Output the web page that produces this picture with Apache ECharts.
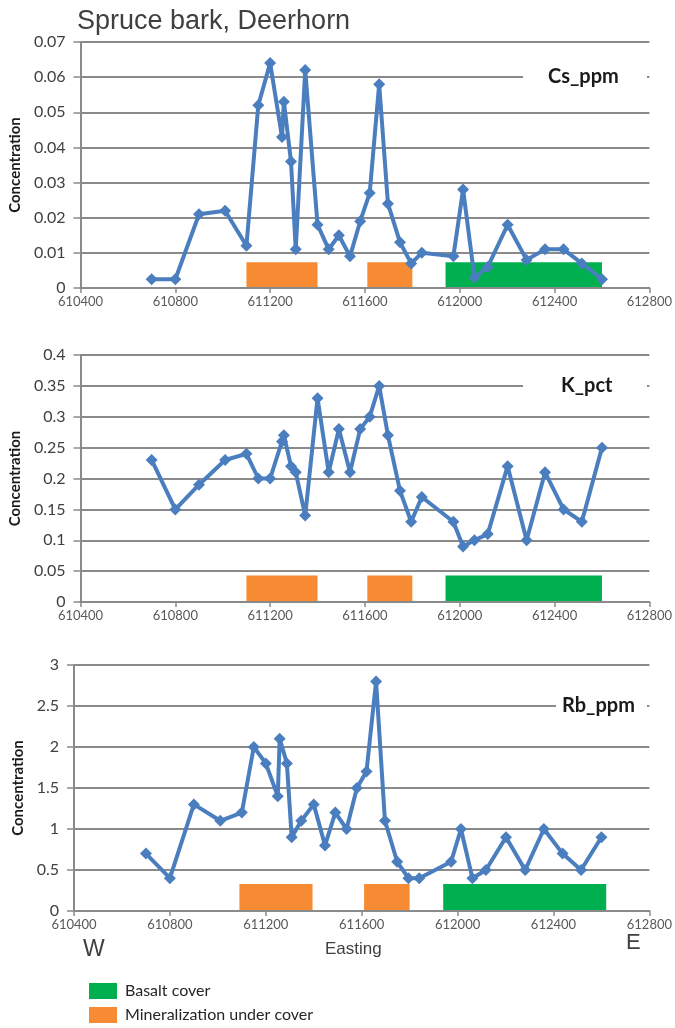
<!DOCTYPE html>
<html>
<head>
<meta charset="utf-8">
<script src="https://cdn.jsdelivr.net/npm/echarts@6/dist/echarts.min.js"></script>
<style>
  html, body { margin: 0; padding: 0; background: #ffffff; }
  #chart { width: 675px; height: 1028px; }
</style>
</head>
<body>
<div id="chart"></div>
<script>
// ---- Data ----
const title = 'Spruce bark, Deerhorn';
const seriesNames = ['Cs_ppm', 'K_pct', 'Rb_ppm'];
const eastings = [610700, 610800, 610900, 611010, 611100, 611150, 611200, 611250, 611258, 611288,
  611308, 611348, 611400, 611447, 611490, 611537, 611580, 611620, 611660, 611697,
  611748, 611795, 611840, 611973, 612014, 612062, 612118, 612202, 612282, 612360,
  612438, 612515, 612600];
const csPpm = [0.0025, 0.0025, 0.021, 0.022, 0.012, 0.052, 0.064, 0.043, 0.053, 0.036,
  0.011, 0.062, 0.018, 0.011, 0.015, 0.009, 0.019, 0.027, 0.058, 0.024,
  0.013, 0.007, 0.010, 0.009, 0.028, 0.003, 0.006, 0.018, 0.008, 0.011,
  0.011, 0.007, 0.0025];
const kPct = [0.23, 0.15, 0.19, 0.23, 0.24, 0.20, 0.20, 0.26, 0.27, 0.22,
  0.21, 0.14, 0.33, 0.21, 0.28, 0.21, 0.28, 0.30, 0.35, 0.27,
  0.18, 0.13, 0.17, 0.13, 0.09, 0.10, 0.11, 0.22, 0.10, 0.21,
  0.15, 0.13, 0.25];
const rbPpm = [0.7, 0.4, 1.3, 1.1, 1.2, 2.0, 1.8, 1.4, 2.1, 1.8,
  0.9, 1.1, 1.3, 0.8, 1.2, 1.0, 1.5, 1.7, 2.8, 1.1,
  0.6, 0.4, 0.4, 0.6, 1.0, 0.4, 0.5, 0.9, 0.5, 1.0,
  0.7, 0.5, 0.9];
const xMin = 610400, xMax = 612800, xStep = 400;
const yMax = [0.07, 0.4, 3];
const yStep = [0.01, 0.05, 0.5];
// zones: [start easting, end easting, bar height, kind]
const zonesCs = [[611100, 611400, 0.0073, 'min'], [611610, 611800, 0.0073, 'min'], [611940, 612600, 0.0073, 'bas']];
const zonesK  = [[611100, 611400, 0.043, 'min'], [611610, 611800, 0.043, 'min'], [611940, 612600, 0.043, 'bas']];
const zonesRb = [[611090, 611395, 0.33, 'min'], [611610, 611800, 0.33, 'min'], [611940, 612620, 0.33, 'bas']];
const legendLabels = ['Basalt cover', 'Mineralization under cover'];

// ---- Styles ----
const BLUE = '#4a7ebf', ORANGE = '#f68b33', GREEN = '#00b050', GRID = '#8a8a8a';
const FONT = 'Lato';

const grids = [
  { left: 75, top: 42, width: 578, height: 246 },
  { left: 75, top: 355, width: 578, height: 247 },
  { left: 74, top: 665, width: 577, height: 246 }
];
const nameGaps = [50, 50, 41];
const values = [csPpm, kPct, rbPpm];
const zones = [zonesCs, zonesK, zonesRb];

const option = {
  animation: false,
  backgroundColor: '#ffffff',
  grid: grids,
  xAxis: grids.map((g, i) => ({
    type: 'value', gridIndex: i, min: xMin, max: xMax, interval: xStep,
    axisLine: { show: true, lineStyle: { color: GRID, width: 2 } },
    axisTick: { show: true, length: 5, lineStyle: { color: GRID, width: 1.5 } },
    splitLine: { show: false },
    axisLabel: { color: '#595959', fontFamily: FONT, fontSize: 13, margin: 7,
      formatter: v => String(v) }
  })),
  yAxis: grids.map((g, i) => ({
    type: 'value', gridIndex: i, min: 0, max: yMax[i], interval: yStep[i],
    name: 'Concentration', nameLocation: 'middle', nameGap: nameGaps[i], nameRotate: 90,
    nameTextStyle: { color: '#1a1a1a', fontFamily: FONT, fontSize: 15, fontWeight: 'bold' },
    axisLine: { show: true, lineStyle: { color: GRID, width: 2 } },
    axisTick: { show: true, length: 7, lineStyle: { color: GRID, width: 1.5 } },
    splitLine: { show: true, lineStyle: { color: GRID, width: 2 } },
    axisLabel: { color: '#404040', fontFamily: FONT, fontSize: 16, margin: 15 }
  })),
  series: []
};

zones.forEach((z, i) => {
  option.series.push({
    type: 'custom', xAxisIndex: i, yAxisIndex: i, z: 2,
    data: z.map(r => [r[0], r[1], r[2], r[3] === 'bas' ? 1 : 0]),
    renderItem: function (params, api) {
      const p0 = api.coord([api.value(0), api.value(2)]);
      const p1 = api.coord([api.value(1), 0]);
      return {
        type: 'rect',
        shape: { x: p0[0], y: p0[1], width: p1[0] - p0[0], height: p1[1] - p0[1] - 1 },
        style: { fill: api.value(3) === 1 ? GREEN : ORANGE }
      };
    }
  });
});

values.forEach((vals, i) => {
  option.series.push({
    type: 'line', name: seriesNames[i], xAxisIndex: i, yAxisIndex: i, z: 5,
    data: eastings.map((e, k) => [e, vals[k]]),
    symbol: 'diamond', symbolSize: 12,
    itemStyle: { color: BLUE },
    lineStyle: { color: BLUE, width: 4 }
  });
});

// series name boxes (Excel-style legend covering a gridline)
const nameBoxes = [
  { x: 523, w: 124, y: 77, tx: 548 },
  { x: 523, w: 124, y: 386, tx: 561 },
  { x: 556, w: 91, y: 706, tx: 562 }
];
option.graphic = [
  { type: 'text', left: 77, top: 8, style: { text: title, fill: '#404040', font: 'normal 27px "Liberation Sans"' } }
];
nameBoxes.forEach((b, i) => {
  option.graphic.push({ type: 'rect', z: 3, shape: { x: b.x, y: b.y - 10, width: b.w, height: 20 }, style: { fill: '#ffffff' } });
  option.graphic.push({ type: 'text', z: 4, x: b.tx, y: b.y, style: { text: seriesNames[i], fill: '#1a1a1a', font: 'bold 20px Lato', textVerticalAlign: 'middle' } });
});
option.graphic.push(
  { type: 'text', x: 83, y: 950, style: { text: 'W', fill: '#404040', font: 'normal 23px "Liberation Sans"', textVerticalAlign: 'middle' } },
  { type: 'text', x: 325, y: 949, style: { text: 'Easting', fill: '#404040', font: 'normal 17px "Liberation Sans"', textVerticalAlign: 'middle' } },
  { type: 'text', x: 626, y: 943, style: { text: 'E', fill: '#404040', font: 'normal 22px "Liberation Sans"', textVerticalAlign: 'middle' } },
  { type: 'rect', shape: { x: 89, y: 983, width: 28, height: 16 }, style: { fill: GREEN } },
  { type: 'text', x: 125, y: 991, style: { text: legendLabels[0], fill: '#262626', font: 'normal 16px Lato', textVerticalAlign: 'middle' } },
  { type: 'rect', shape: { x: 89, y: 1007, width: 28, height: 16 }, style: { fill: ORANGE } },
  { type: 'text', x: 125, y: 1015, style: { text: legendLabels[1], fill: '#262626', font: 'normal 16px Lato', textVerticalAlign: 'middle' } }
);

const chart = echarts.init(document.getElementById('chart'), null, { renderer: 'canvas' });
chart.setOption(option);
</script>
</body>
</html>
